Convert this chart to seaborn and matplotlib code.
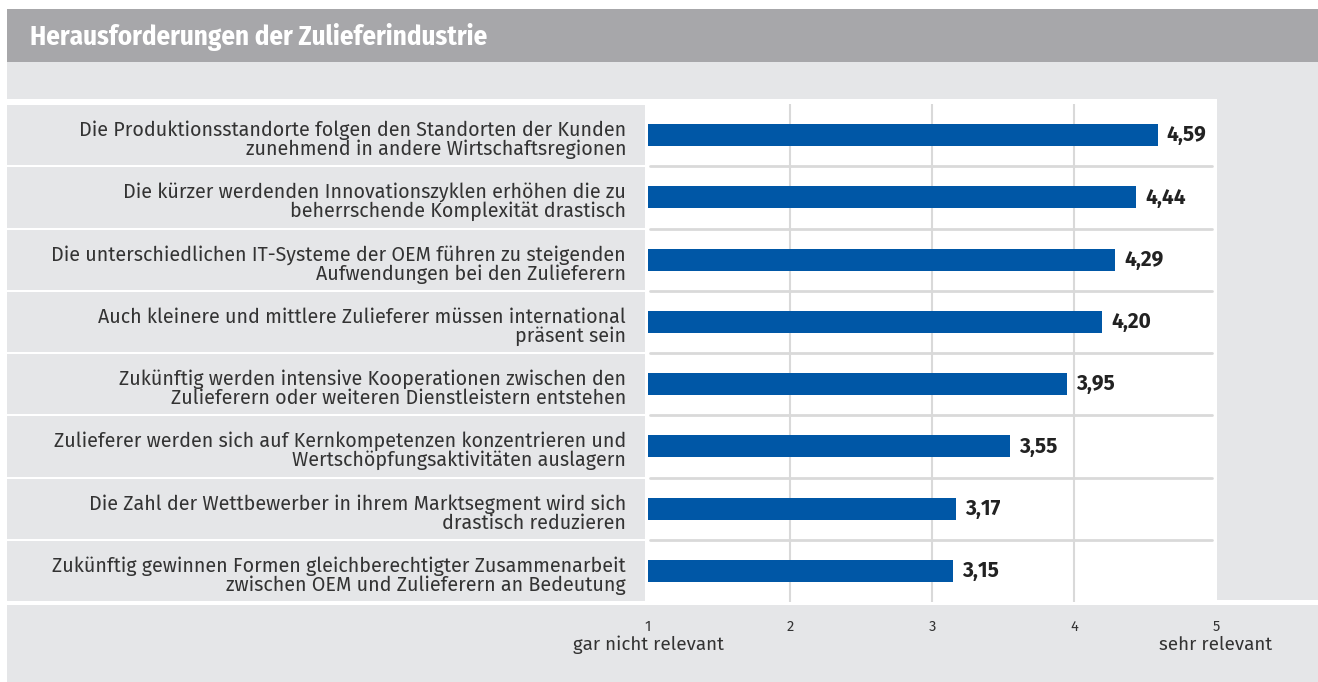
import matplotlib
matplotlib.use("Agg")
import matplotlib.pyplot as plt
import seaborn as sns
import pandas as pd
from matplotlib.patches import Rectangle
from matplotlib.transforms import blended_transform_factory

title = "Herausforderungen der Zulieferindustrie"
categories = [
    "Die Produktionsstandorte folgen den Standorten der Kunden\nzunehmend in andere Wirtschaftsregionen",
    "Die kürzer werdenden Innovationszyklen erhöhen die zu\nbeherrschende Komplexität drastisch",
    "Die unterschiedlichen IT-Systeme der OEM führen zu steigenden\nAufwendungen bei den Zulieferern",
    "Auch kleinere und mittlere Zulieferer müssen international\npräsent sein",
    "Zukünftig werden intensive Kooperationen zwischen den\nZulieferern oder weiteren Dienstleistern entstehen",
    "Zulieferer werden sich auf Kernkompetenzen konzentrieren und\nWertschöpfungsaktivitäten auslagern",
    "Die Zahl der Wettbewerber in ihrem Marktsegment wird sich\ndrastisch reduzieren",
    "Zukünftig gewinnen Formen gleichberechtigter Zusammenarbeit\nzwischen OEM und Zulieferern an Bedeutung",
]
values = [4.59, 4.44, 4.29, 4.20, 3.95, 3.55, 3.17, 3.15]
x_ticks = [1, 2, 3, 4, 5]
x_ticklabels = ["1", "2", "3", "4", "5"]
scale_low = "gar nicht relevant"
scale_high = "sehr relevant"

BLUE = "#0057a6"
DARK_GRAY = "#a7a7aa"
LIGHT_GRAY = "#e5e6e8"
GRID = "#d9d9d9"
TEXT = "#333333"

sns.set_theme(style="white")
plt.rcParams["font.family"] = ["Fira Sans", "DejaVu Sans"]
COND = ["Fira Sans Condensed", "DejaVu Sans"]

W, H = 1318, 682
fig = plt.figure(figsize=(W / 100, H / 100), dpi=100)
fig.patch.set_facecolor("white")


def fx(px):
    return px / W


def fy(py):
    return 1 - py / H


def rect_px(x0, y0, x1, y1, color, z=-5):
    fig.add_artist(Rectangle((fx(x0), fy(y1)), fx(x1) - fx(x0), fy(y0) - fy(y1),
                             transform=fig.transFigure, facecolor=color,
                             edgecolor="none", zorder=z))


# background blocks
rect_px(7, 9, W, 62, DARK_GRAY)
rect_px(7, 62, W, 99, LIGHT_GRAY)
rect_px(1217, 99, W, 600, LIGHT_GRAY)
rect_px(7, 605, W, H, LIGHT_GRAY)
fig.text(fx(30), fy(37), title, color="white", fontsize=19.4, fontweight="bold",
         family=COND, ha="left", va="center")

# plot axes
ax_left, ax_right, ax_top, ax_bottom = 645, 1217, 104, 602
ax = fig.add_axes([fx(ax_left), fy(ax_bottom), fx(ax_right) - fx(ax_left),
                   fy(ax_top) - fy(ax_bottom)])
df = pd.DataFrame({"label": categories, "value": values})
sns.barplot(data=df, x="value", y="label", orient="h", color=BLUE, width=0.35,
            saturation=1, ax=ax, zorder=3)

ppu = 142.0
x1_px = 648
ax.set_xlim(1 - (x1_px - ax_left) / ppu, 1 + (ax_right - x1_px) / ppu)
ax.set_ylim(len(values) - 0.5, -0.5)
ax.set_facecolor("white")
for s in ax.spines.values():
    s.set_visible(False)
row_px = (ax_bottom - ax_top) / len(values)

# bars start at 1 on the scale
for p, v in zip(ax.patches, values):
    p.set_x(1)
    p.set_width(v - 1)
    p.set_edgecolor("none")

# vertical gridlines
for t in x_ticks[1:-1]:
    ax.axvline(t, color=GRID, lw=1.5, zorder=1)

# row separators
xa0 = (650 - ax_left) / (ax_right - ax_left)
xa1 = (1212 - ax_left) / (ax_right - ax_left)
for k in range(len(values) - 1):
    ax.axhline(k + 0.5, xmin=xa0, xmax=xa1, color=GRID, lw=2, zorder=2)

# value labels
for i, v in enumerate(values):
    ax.annotate(f"{v:.2f}".replace(".", ","), (v, i), xytext=(6.5, 0),
                textcoords="offset points", ha="left", va="center",
                fontsize=15, fontweight="bold", color="#222222")

# category labels & panels
ax.set_ylabel("")
ax.set_xlabel("")
ax.set_yticks([])
tr = blended_transform_factory(fig.transFigure, ax.transData)
gap = 1.0 / row_px
for k, lab in enumerate(categories):
    fig.add_artist(Rectangle((fx(7), k - 0.5 + gap), fx(645) - fx(7), 1 - 2 * gap,
                             transform=tr, facecolor=LIGHT_GRAY, edgecolor="none",
                             zorder=-4))
    ax.text(fx(626), k + 20 / row_px, lab, transform=tr, ha="right",
            va="baseline", fontsize=14.2, color=TEXT, linespacing=0.96)

# x axis ticks
ax.set_xticks(x_ticks)
ax.set_xticklabels(x_ticklabels, fontsize=10.5, color=TEXT)
ax.tick_params(axis="x", length=0, pad=13)
trx = blended_transform_factory(ax.transData, fig.transFigure)
ax.text(1, fy(645), scale_low, transform=trx, ha="center", va="center",
        fontsize=13.5, color=TEXT)
ax.text(5, fy(645), scale_high, transform=trx, ha="center", va="center",
        fontsize=13.5, color=TEXT)

fig.savefig("out.png", dpi=100)
